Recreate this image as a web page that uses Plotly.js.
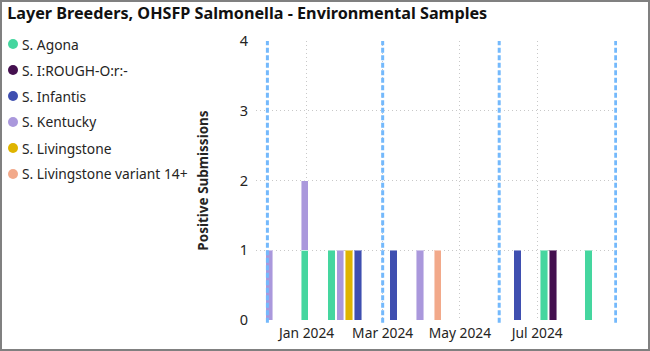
<!DOCTYPE html>
<html>
<head>
<meta charset="utf-8">
<script src="https://cdn.plot.ly/plotly-3.0.1.min.js"></script>
<style>
html,body{margin:0;padding:0;background:#fff;}
#wrap{position:absolute;left:0;top:0;width:646px;height:347px;border:2px solid #808080;}
#chart{width:646px;height:347px;}
</style>
</head>
<body>
<div id="wrap"><div id="chart"></div></div>
<script>
const titleText = "Layer Breeders, OHSFP Salmonella - Environmental Samples";
const serotypes = ["S. Agona","S. I:ROUGH-O:r:-","S. Infantis","S. Kentucky","S. Livingstone","S. Livingstone variant 14+"];
const colors = ["#45d69f","#44104f","#3f4fb0","#aa98dc","#dfb400","#f2a98a"];
const weekDates = {
  "S. Agona": ["2023-12-30","2024-01-20","2024-07-06","2024-08-10"],
  "S. I:ROUGH-O:r:-": ["2024-07-13"],
  "S. Infantis": ["2024-02-10","2024-03-09","2024-06-15"],
  "S. Kentucky": ["2023-12-02","2023-12-30","2024-01-27","2024-03-30"],
  "S. Livingstone": ["2024-02-03"],
  "S. Livingstone variant 14+": ["2024-04-13"]
};
const weekCounts = {
  "S. Agona": [1,1,1,1],
  "S. I:ROUGH-O:r:-": [1],
  "S. Infantis": [1,1,1],
  "S. Kentucky": [1,1,1,1],
  "S. Livingstone": [1],
  "S. Livingstone variant 14+": [1]
};
const quarterLines = ["2023-12-01","2024-03-01","2024-06-01","2024-09-01"];
const xRange = ["2023-11-22","2024-09-02"];
const yTicks = [0,1,2,3,4];
const xTickVals = ["2024-01-01","2024-03-01","2024-05-01","2024-07-01"];
const xTickText = ["Jan 2024","Mar 2024","May 2024","Jul 2024"];

const W = 646, H = 347;
const M = {l:254, r:31, t:39, b:29};
const pw = W - M.l - M.r, ph = H - M.t - M.b;
const px2x = p => (p - M.l) / pw;
const px2y = p => 1 - (p - M.t) / ph;

const DAY = 86400000;
const traces = [];
serotypes.forEach((s,i)=>{
  traces.push({
    type:'bar', name:s, x:weekDates[s].map(d=>d+" 12:00"), y:weekCounts[s],
    width: weekDates[s].map(()=>5.8*DAY),
    marker:{color:colors[i], line:{color:'rgba(255,255,255,0.45)', width:1}},
    showlegend:false, hoverinfo:'x+y+name'
  });
});

const shapes = quarterLines.map(d=>({
  type:'line', xref:'x', yref:'paper', x0:d, x1:d, y0:-0.01, y1:1,
  line:{color:'#74b9fc', width:3, dash:'5px,2.5px'}, layer:'above'
}));

// legend (drawn as circles + text, Power BI style)
const annotations = [];
serotypes.forEach((s,i)=>{
  const cy = 42 + 26*i;   // chart px, row centre
  const cx = 11;
  shapes.push({type:'circle', xref:'paper', yref:'paper',
    x0:px2x(cx-5), x1:px2x(cx+5), y0:px2y(cy+5), y1:px2y(cy-5),
    fillcolor:colors[i], line:{width:0}});
  annotations.push({xref:'paper', yref:'paper', x:px2x(cx+7), y:px2y(cy), xanchor:'left', yanchor:'middle',
    text:s, showarrow:false, font:{size:13.8, color:'#252423'}});
});

const layout = {
  width:W, height:H,
  margin:M,
  paper_bgcolor:'#fff', plot_bgcolor:'#fff',
  font:{family:"'Segoe UI','Noto Sans','Open Sans',sans-serif", color:'#252423', size:13},
  title:{text:'<b>'+titleText+'</b>', x:0.008, xanchor:'left', y:0.985, yanchor:'top', yref:'container',
         font:{size:16.2, color:'#111'}},
  barmode:'stack',
  showlegend:false,
  xaxis:{type:'date', range:xRange, tickvals:xTickVals, ticktext:xTickText, showgrid:true,
         gridcolor:'#c8c8c8', griddash:'1px,3px', gridwidth:1, zeroline:false, showline:false,
         ticks:'', ticklabelstandoff:3, tickfont:{size:13.8, color:'#252423'}, fixedrange:true},
  yaxis:{range:[0,4], tickvals:yTicks, showgrid:true, gridcolor:'#c8c8c8', griddash:'1px,3px', gridwidth:1,
         zeroline:false, ticks:'', ticklabelstandoff:7, tickfont:{size:14.5, color:'#252423'},
         title:{text:'<b>Positive Submissions</b>', font:{size:13.5, color:'#252423'}, standoff:27}},
  shapes:shapes,
  annotations:annotations
};
Plotly.newPlot('chart', traces, layout, {displayModeBar:false, staticPlot:true});
</script>
</body>
</html>
